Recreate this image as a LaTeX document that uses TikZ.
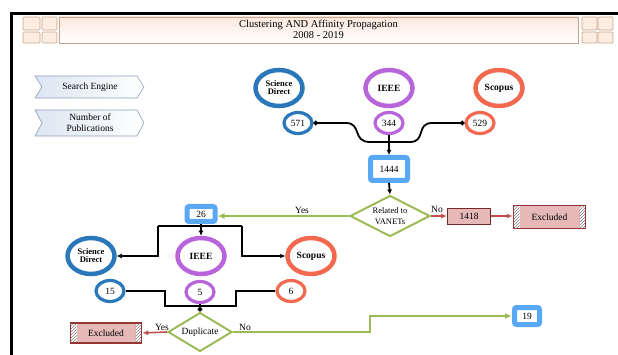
\documentclass[tikz,border=0pt]{standalone}
\usepackage{fontspec}
\setmainfont{Liberation Serif}
\usetikzlibrary{shapes.geometric,arrows.meta,patterns}
\definecolor{sdblue}{HTML}{2A78BA}
\definecolor{iepurple}{HTML}{B864DA}
\definecolor{scorange}{HTML}{F2694F}
\definecolor{boxblue}{HTML}{5AA8F5}
\definecolor{grn}{HTML}{9BBB59}
\definecolor{redarr}{HTML}{C0504D}
\definecolor{exfill}{HTML}{E6B9B8}
\definecolor{exred}{HTML}{943634}
\definecolor{peach}{HTML}{FADFCF}
\definecolor{peachline}{HTML}{C9A48C}
\definecolor{chevfill}{HTML}{DCE6F2}
\definecolor{chevline}{HTML}{8EA0B8}
\begin{document}
\begin{tikzpicture}[x=1pt,y=-1pt,
  ring/.style={ellipse, draw=#1, line width=4.5pt, fill=white, inner sep=0pt,
    minimum width=47pt, minimum height=36pt, align=center,
    font=\fontsize{9.5}{8.5}\selectfont\bfseries},
  sring/.style={ellipse, draw=#1, line width=3.2pt, fill=white, inner sep=0pt,
    minimum width=28pt, minimum height=21pt, font=\fontsize{9.5}{10}\selectfont},
  bsq/.style={draw=boxblue, line width=5pt, fill=white, rounded corners=2pt,
    inner sep=0pt, font=\fontsize{9.5}{10}\selectfont},
  dia/.style={diamond, draw=grn, line width=2pt, fill=white, aspect=2,
    inner sep=0pt, align=center, font=\fontsize{8.5}{10.5}\selectfont},
  exbox/.style={rectangle, draw=exred, line width=1.5pt, fill=exfill,
    minimum width=70pt, minimum height=21pt, inner sep=0pt,
    font=\fontsize{9.5}{10}\selectfont,
    path picture={
      \fill[white] (path picture bounding box.north west) rectangle ([xshift=6pt]path picture bounding box.south west);
      \fill[pattern=north east lines, pattern color=gray] (path picture bounding box.north west) rectangle ([xshift=6pt]path picture bounding box.south west);
      \fill[white] (path picture bounding box.north east) rectangle ([xshift=-6pt]path picture bounding box.south east);
      \fill[pattern=north east lines, pattern color=gray] (path picture bounding box.north east) rectangle ([xshift=-6pt]path picture bounding box.south east);
    }},
  numbox/.style={rectangle, draw=exred!80!black, line width=0.8pt, fill=exfill,
    minimum width=43pt, minimum height=16pt, inner sep=0pt, font=\fontsize{9.5}{10}\selectfont},
  blk/.style={line width=1.8pt, black},
  blkarr/.style={blk, -{Latex[length=5pt,width=5pt]}},
  grnarr/.style={line width=2pt, grn, -{Latex[length=7pt,width=6pt]}},
  redarrow/.style={line width=1.6pt, redarr, -{Latex[length=6pt,width=5pt]}},
  lbl/.style={font=\fontsize{9.5}{10}\selectfont, inner sep=0pt},
  chev/.style={draw=chevline, line width=0.6pt, left color=chevfill, right color=white},
  sq/.style={draw=peachline, line width=0.7pt, fill=peach!60, rounded corners=1pt},
]
\useasboundingbox (0,0) rectangle (618,355);

% frame
\draw[line width=3pt] (11.5,355) -- (11.5,13.5) -- (618,13.5);

% title bar
\draw[peachline, line width=0.8pt, top color=peach!70, bottom color=white] (59,17) rectangle (578,43);
\node[align=center, font=\fontsize{10.5}{10.5}\selectfont, inner sep=0pt] (title) at (318.5,29.5)
  {Clustering AND Affinity Propagation\\2008 - 2019};
\foreach \x/\w in {23/17,42/15,582/15,598/15}{
  \draw[sq] (\x,17) rectangle ++(\w,13);
  \draw[sq] (\x,32) rectangle ++(\w,11);
}

% legend chevrons
\draw[chev] (35,76) -- (137,76) -- (144,87) -- (137,98) -- (35,98) -- (42,87) -- cycle;
\node[lbl] (legA) at (90,87) {Search Engine};
\draw[chev] (35,110) -- (137,110) -- (144,123) -- (137,136) -- (35,136) -- (42,123) -- cycle;
\node[lbl, align=center, font=\fontsize{9.5}{11}\selectfont] (legB) at (90,123) {Number of\\Publications};

% top row
\node[ring=sdblue, font=\fontsize{8.5}{8}\selectfont\bfseries] (sd1) at (279,88) {Science\\Direct};
\node[ring=iepurple] (ie1) at (389,88) {IEEE};
\node[ring=scorange] (sc1) at (499,88) {Scopus};
\node[sring=sdblue] (n571) at (298,123) {571};
\node[sring=iepurple] (n344) at (389,123) {344};
\node[sring=scorange] (n529) at (480,123) {529};

\coordinate (m) at (389,142);
\draw[blk, {Circle[length=4.5pt]}-{Circle[length=4.5pt]}] (n571.east) -- (346,123)
  .. controls (362,123) and (352,142) .. (370,142) -- (410,142)
  .. controls (426,142) and (416,123) .. (432,123) -- (n529.west);
\draw[blk] (n344.south) -- (m);
\node[bsq, minimum width=37pt, minimum height=23pt] (n1444) at (389,169) {1444};
\draw[blkarr] (m) -- (n1444.north);

% decision 1
\node[dia, minimum width=80pt, minimum height=41pt] (rel) at (390,216) {Related to\\VANETs};
\draw[blkarr] (n1444.south) -- (rel.north);
\node[numbox] (n1418) at (469,216) {1418};
\node[exbox, minimum width=72pt, minimum height=23pt] (ex1) at (549.5,217) {Excluded};
\draw[redarrow] (rel.east) -- (n1418.west);
\draw[redarrow] (n1418.east) -- (n1418.east -| ex1.west);
\node[lbl] (no1) at (437,209) {No};

\node[bsq, minimum width=28pt, minimum height=15pt] (n26) at (201,214) {26};
\draw[grnarr] (rel.west) -- (rel.west -| n26.east);
\node[lbl] (yes1) at (302,210) {Yes};

% second row
\node[ring=sdblue, font=\fontsize{8.5}{8}\selectfont\bfseries] (sd2) at (91,256) {Science\\Direct};
\node[ring=iepurple] (ie2) at (201,256) {IEEE};
\node[ring=scorange] (sc2) at (311,256) {Scopus};
\coordinate (jL) at (158,226);
\coordinate (jR) at (242,226);
\draw[blk] (jL) -- (jR);
\draw[blkarr] (n26.south) -- (ie2.north);
\draw[blkarr] (jL) |- (sd2.east);
\draw[blkarr] (jR) |- (sc2.west);

\node[sring=sdblue] (n15) at (110,291) {15};
\node[sring=iepurple] (n5) at (200,292) {5};
\node[sring=scorange] (n6) at (291,291) {6};
\coordinate (jm) at (200,306);
\coordinate (a) at (165,306);
\coordinate (b) at (236,306);
\draw[blk] (n15.east) -| (a) -- (jm);
\draw[blk] (n6.west) -| (b) -- (jm);
\draw[blk] (n5.south) -- (jm);

% decision 2
\node[dia, minimum width=64pt, minimum height=39pt, font=\fontsize{9.5}{10}\selectfont] (dup) at (200,332) {Duplicate};
\draw[blk, -{Circle[length=4.5pt]}] (jm) -- (dup.north);
\node[exbox, minimum width=71pt, minimum height=20pt] (ex2) at (106,333) {Excluded};
\draw[redarrow] (dup.west) -- (ex2.east);
\node[lbl] (yes2) at (162,327) {Yes};

\node[bsq, minimum width=25pt, minimum height=17pt] (n19) at (527,316) {19};
\coordinate (c) at (370,332);
\draw[grnarr] (dup.east) -- (c) |- (n19.west);
\node[lbl] (no2) at (245,327) {No};
\end{tikzpicture}
\end{document}
